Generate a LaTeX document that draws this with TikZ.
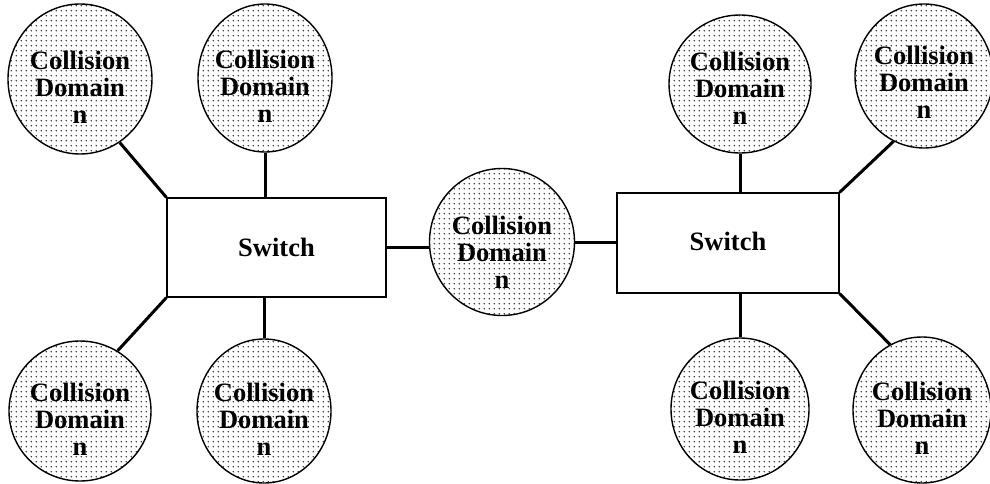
\documentclass[tikz,border=0pt]{standalone}
\usepackage{fontspec}
\setmainfont{Liberation Serif}
\usetikzlibrary{shapes.geometric,patterns}

% fine halftone dot grid for the domain bubbles
\pgfdeclarepatternformonly{cddots}{\pgfpointorigin}{\pgfqpoint{4.8pt}{4.8pt}}{\pgfqpoint{4.8pt}{4.8pt}}%
  {\pgfpathcircle{\pgfqpoint{2.4pt}{2.4pt}}{0.85pt}\pgfusepath{fill}}

\tikzset{
  cdbubble/.style={ellipse, draw=black, line width=1.4pt, minimum width=140pt,
    minimum height=148pt, inner sep=0pt, pattern=cddots, pattern color=black!80,
    preaction={fill=white}},
  cdtext/.style={font=\fontsize{26.5}{27}\selectfont\bfseries, align=center, inner sep=0pt},
  switchbox/.style={rectangle, draw=black, line width=1.2pt, fill=white,
    inner sep=0pt, font=\fontsize{26.5}{27}\selectfont\bfseries},
  link/.style={line width=3pt}
}

\begin{document}
\begin{tikzpicture}[x=1pt,y=-1pt]
\useasboundingbox (0,0) rectangle (990,484);

% switches
\node[switchbox, minimum width=219pt, minimum height=99pt] (lbox) at (276.5,247.5) {Switch};
\node[switchbox, minimum width=222pt, minimum height=100pt] (rbox) at (728,243) {\raisebox{3pt}{Switch}};

% collision domains
\node[cdbubble, minimum width=144pt, minimum height=150pt] (tl) at (80,79) {};
\node[cdbubble, minimum width=134pt] (tc) at (265,78) {};
\node[cdbubble, minimum width=142pt, minimum height=140pt] (bl) at (80,411) {};
\node[cdbubble, minimum width=134pt, minimum height=144pt] (bc) at (264,411) {};
\node[cdbubble, minimum width=145pt, minimum height=147pt] (mid) at (502,242) {};
\node[cdbubble, minimum width=142pt, minimum height=138pt] (tr1) at (740,84) {};
\node[cdbubble, minimum width=138pt, minimum height=144pt] (tr2) at (924,76) {};
\node[cdbubble, minimum width=138pt, minimum height=142pt] (br1) at (740,409) {};
\node[cdbubble, minimum width=138pt, minimum height=146pt] (br2) at (922,410) {};

% labels inside the domains
\foreach \d/\dy in {tl/8, tc/8, bl/8, bc/8, mid/10, tr1/4, tr2/6, br1/8, br2/8}
  \node[cdtext] (\d-label) at ([yshift=-\dy pt]\d.center) {Collision\\Domain\\n};

% links
\draw[link] (tl.-58) -- (lbox.north west);
\draw[link] (tc.south) -- (tc.south |- lbox.north);
\draw[link] (bl.58) -- (lbox.south west);
\draw[link] (bc.north) -- (bc.north |- lbox.south);
\draw[link] (lbox.east) -- (lbox.east -| mid.west);
\draw[link] (mid.east) -- (mid.east -| rbox.west);
\draw[link] (tr1.south) -- (tr1.south |- rbox.north);
\draw[link] (tr2.245) -- (rbox.north east);
\draw[link] (br1.north) -- (br1.north |- rbox.south);
\draw[link] (br2.116) -- (rbox.south east);
\end{tikzpicture}
\end{document}
